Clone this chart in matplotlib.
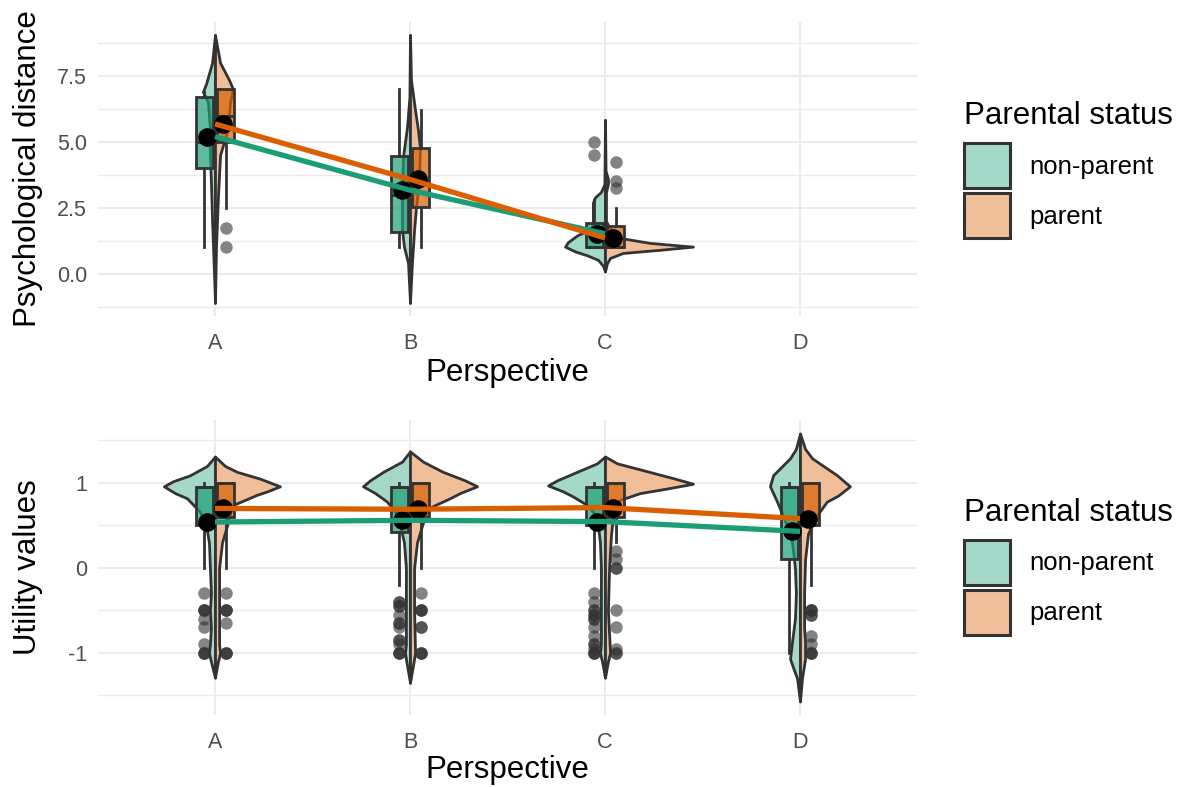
import numpy as np
import matplotlib.pyplot as plt
from matplotlib.patches import Patch
from matplotlib.colors import to_rgba

plt.rcParams['font.family'] = ['Liberation Sans', 'DejaVu Sans']

categories = ['A', 'B', 'C', 'D']
groups = ['non-parent', 'parent']
line_colors = ['#1B9E77', '#D95F02']
violin_colors = ['#A4D8C9', '#F0BF9A']
outline = '#333333'

# ---------------- Psychological distance (A, B, C) ----------------
# split violin half-profiles: (value, half width in axis units)
psy_violin_np = [
    [(9.05, 0), (8.0, .015), (7.2, .046), (6.9, .062), (6.5, .036), (5.5, .026), (4.5, .026),
     (3.5, .021), (2.0, .015), (0.0, .005), (-1.1, 0)],
    [(9.05, 0), (6.7, .003), (5.58, .015), (4.44, .036), (2.93, .041), (1.67, .041), (1.03, .031),
     (0.41, .010), (-1.1, 0)],
    [(5.83, 0), (3.4, .003), (3.1, .021), (2.9, .051), (2.7, .062), (2.05, .062), (1.85, .062),
     (1.67, .082), (1.45, .144), (1.2, .190), (1.03, .205), (0.85, .154), (0.7, .092),
     (0.53, .036), (0.3, .010), (0.09, 0)],
]
psy_violin_p = [
    [(9.05, 0), (8.0, .026), (7.35, .072), (7.0, .092), (6.5, .077), (5.5, .067), (5.0, .046),
     (4.5, .026), (2.9, .015), (1.0, .005), (-1.1, 0)],
    [(9.05, 0), (7.35, .005), (6.2, .026), (5.45, .041), (4.77, .051), (3.5, .046), (2.55, .031),
     (1.67, .021), (0.41, .010), (-1.1, 0)],
    [(5.83, 0), (3.9, .003), (3.6, .015), (3.4, .015), (3.1, .005), (2.0, .005), (1.85, .015),
     (1.6, .041), (1.36, .077), (1.17, .231), (1.03, .451), (0.91, .282), (0.79, .092),
     (0.6, .026), (0.4, .010), (0.09, 0)],
]
# box stats: whisker low, q1, median, q3, whisker high
psy_box_np = [(1.0, 4.0, 5.0, 6.7, 6.9), (1.0, 1.6, 3.0, 4.45, 7.0), (1.0, 1.0, 1.0, 1.93, 2.8)]
psy_box_p = [(2.5, 5.0, 6.0, 7.0, 7.0), (1.0, 2.55, 3.5, 4.77, 6.2), (1.0, 1.0, 1.0, 1.82, 2.5)]
psy_out_np = [[], [], [5.0, 4.5]]
psy_out_p = [[1.75, 1.0], [], [4.25, 3.5, 3.25]]
psy_mean_np = [5.2, 3.17, 1.52]
psy_mean_p = [5.68, 3.58, 1.36]

# ---------------- Utility values (A, B, C, D) ----------------
util_violin_np = [
    [(1.31, 0), (1.2, .041), (1.09, .128), (1.02, .215), (0.96, .262), (0.88, .205), (0.82, .144),
     (0.66, .077), (0.5, .046), (0.3, .031), (0.0, .026), (-0.3, .021), (-0.5, .026), (-0.7, .021),
     (-0.9, .026), (-1.0, .031), (-1.1, .021), (-1.2, .010), (-1.29, 0)],
    [(1.37, 0), (1.25, .041), (1.13, .138), (1.03, .205), (0.96, .241), (0.88, .179), (0.78, .118),
     (0.66, .077), (0.5, .051), (0.3, .031), (0.0, .021), (-0.5, .021), (-0.9, .021), (-1.0, .026),
     (-1.15, .015), (-1.35, 0)],
    [(1.31, 0), (1.23, .041), (1.13, .144), (1.03, .246), (0.97, .292), (0.9, .215), (0.84, .164),
     (0.74, .092), (0.63, .051), (0.5, .036), (0.3, .026), (0.0, .021), (-0.5, .021), (-0.9, .021),
     (-1.0, .026), (-1.1, .015), (-1.29, 0)],
    [(1.58, 0), (1.4, .021), (1.29, .051), (1.09, .138), (0.96, .154), (0.78, .118), (0.5, .067),
     (0.3, .041), (0.0, .026), (-0.3, .021), (-0.6, .026), (-0.87, .041), (-1.07, .051),
     (-1.2, .031), (-1.3, .015), (-1.57, 0)],
]
util_violin_p = [
    [(1.31, 0), (1.2, .051), (1.13, .113), (1.05, .231), (0.96, .333), (0.9, .267), (0.86, .215),
     (0.74, .092), (0.6, .072), (0.5, .062), (0.3, .036), (0.0, .021), (-0.5, .021), (-0.9, .021),
     (-1.0, .026), (-1.1, .015), (-1.29, 0)],
    [(1.37, 0), (1.25, .067), (1.13, .169), (1.03, .282), (0.96, .344), (0.88, .256), (0.82, .205),
     (0.7, .092), (0.5, .062), (0.3, .036), (0.0, .021), (-0.5, .021), (-1.0, .026), (-1.15, .015),
     (-1.35, 0)],
    [(1.31, 0), (1.23, .062), (1.15, .195), (1.05, .359), (0.99, .451), (0.93, .308), (0.88, .179),
     (0.8, .077), (0.6, .041), (0.4, .031), (0.2, .026), (0.0, .021), (-0.5, .015), (-1.0, .026),
     (-1.1, .015), (-1.29, 0)],
    [(1.58, 0), (1.4, .026), (1.29, .062), (1.09, .190), (0.96, .256), (0.85, .195), (0.78, .138),
     (0.59, .077), (0.4, .041), (0.1, .026), (-0.3, .021), (-0.7, .021), (-0.87, .026),
     (-1.07, .026), (-1.3, .010), (-1.57, 0)],
]
util_box_np = [(0.0, 0.5, 0.95, 0.95, 1.0), (-0.2, 0.42, 0.95, 0.95, 1.0),
               (0.0, 0.5, 0.95, 0.95, 1.0), (-1.0, 0.1, 0.95, 0.95, 1.0)]
util_box_p = [(0.0, 0.6, 1.0, 1.0, 1.0), (0.0, 0.6, 1.0, 1.0, 1.0),
              (0.3, 0.6, 1.0, 1.0, 1.0), (-0.2, 0.5, 1.0, 1.0, 1.0)]
util_out_np = [
    [-0.3, -0.5, -0.5, -0.5, -0.6, -0.7, -0.9, -1.0, -1.0, -1.0],
    [-0.4, -0.4, -0.45, -0.45, -0.55, -0.65, -0.65, -0.7, -0.85, -0.85, -0.9, -1.0, -1.0, -1.0],
    [-0.3, -0.4, -0.5, -0.5, -0.55, -0.55, -0.6, -0.6, -0.7, -0.8, -0.9, -0.9, -0.95,
     -1.0, -1.0, -1.0],
    [],
]
util_out_p = [
    [-0.3, -0.5, -0.5, -0.5, -0.65, -1.0, -1.0, -1.0],
    [-0.3, -0.5, -0.5, -0.5, -0.7, -0.7, -1.0, -1.0, -1.0],
    [0.2, 0.1, 0.0, 0.0, -0.5, -0.7, -0.95, -1.0, -1.0],
    [-0.5, -0.5, -0.5, -0.55, -0.55, -0.8, -0.9, -1.0, -1.0, -1.0],
]
util_mean_np = [0.54, 0.56, 0.545, 0.43]
util_mean_p = [0.70, 0.69, 0.71, 0.58]


def draw_panel(ax, violins, boxes, outliers, means, ylabel, ylim, yticks, ylabels, minor):
    for g in range(2):
        sign = -1 if g == 0 else 1
        for i, prof in enumerate(violins[g]):
            ys = [p[0] for p in prof]
            ws = [p[1] for p in prof]
            ax.fill_betweenx(ys, i, i + sign * np.array(ws), facecolor=violin_colors[g],
                             edgecolor=outline, linewidth=2.0, zorder=2)
        stats = []
        for i, (lo, q1, med, q3, hi) in enumerate(boxes[g]):
            stats.append(dict(whislo=lo, q1=q1, med=med, q3=q3, whishi=hi, fliers=outliers[g][i]))
        pos = np.arange(len(stats)) + sign * 0.054
        ax.bxp(stats, positions=pos, widths=0.087, patch_artist=True, showcaps=False,
               boxprops=dict(facecolor=to_rgba(line_colors[g], 0.7), edgecolor=outline,
                             linewidth=2.0),
               whiskerprops=dict(color=outline, linewidth=2.0),
               medianprops=dict(color=outline, linewidth=2.0),
               flierprops=dict(marker='o', markersize=9, markerfacecolor=outline,
                               markeredgecolor='none', alpha=0.6),
               manage_ticks=False, zorder=3)
    for g in range(2):
        sign = -1 if g == 0 else 1
        x = np.arange(len(means[g]))
        ax.scatter(x + sign * 0.041, means[g], s=180, color='black', zorder=4, linewidths=0)
    for g in range(2):
        x = np.arange(len(means[g]))
        ax.plot(x, means[g], color=line_colors[g], linewidth=3.8, zorder=5 + g,
                solid_capstyle='butt')

    ax.set_xlim(-0.6, 3.6)
    ax.set_xticks(range(len(categories)))
    ax.set_xticklabels(categories)
    ax.set_ylim(*ylim)
    ax.set_yticks(yticks)
    ax.set_yticklabels(ylabels)
    ax.set_yticks(minor, minor=True)
    ax.grid(True, which='major', color='#EBEBEB', linewidth=1.5, zorder=0)
    ax.grid(True, which='minor', axis='y', color='#EBEBEB', linewidth=1.0, zorder=0)
    ax.set_axisbelow(True)
    for s in ax.spines.values():
        s.set_visible(False)
    ax.tick_params(which='both', length=0, labelsize=15.5, labelcolor='#4D4D4D')
    ax.tick_params(axis='x', pad=12)
    ax.tick_params(axis='y', pad=8)
    ax.set_xlabel('Perspective', fontsize=22.5)
    ax.set_ylabel(ylabel, fontsize=22.5)
    ax.xaxis.label.set_va('center')
    ax.yaxis.label.set_va('center')

    handles = [Patch(facecolor=violin_colors[g], edgecolor=outline, linewidth=2.2, label=groups[g])
               for g in range(2)]
    leg = ax.legend(handles=handles, title='Parental status', loc='upper left',
                    bbox_to_anchor=(1.057, 0.5), bbox_transform=ax.transAxes, frameon=False,
                    fontsize=18.5, title_fontsize=22.5, handlelength=1.8, handleheight=2.32,
                    handletextpad=0.75, labelspacing=0.2, borderpad=0, borderaxespad=0,
                    alignment='left')
    leg._legend_box.sep = 8.6
    return leg


fig = plt.figure(figsize=(11.84, 7.87), dpi=100)
ax1 = fig.add_axes([98 / 1184, 1 - 316 / 787, 819 / 1184, 294.4 / 787])
ax2 = fig.add_axes([98 / 1184, 1 - 715 / 787, 819 / 1184, 295 / 787])

leg1 = draw_panel(ax1, [psy_violin_np, psy_violin_p], [psy_box_np, psy_box_p],
                  [psy_out_np, psy_out_p], [psy_mean_np, psy_mean_p], 'Psychological distance',
                  (-1.6, 9.56), [0, 2.5, 5, 7.5], ['0.0', '2.5', '5.0', '7.5'],
                  [-1.25, 1.25, 3.75, 6.25, 8.75])
leg1.set_bbox_to_anchor((1.057, 0.73), transform=ax1.transAxes)
ax1.xaxis.set_label_coords(0.5, -0.194)
ax1.yaxis.set_label_coords(-0.0855, 0.5)

leg2 = draw_panel(ax2, [util_violin_np, util_violin_p], [util_box_np, util_box_p],
                  [util_out_np, util_out_p], [util_mean_np, util_mean_p], 'Utility values',
                  (-1.73, 1.74), [-1, 0, 1], ['-1', '0', '1'], [-1.5, -0.5, 0.5, 1.5])
leg2.set_bbox_to_anchor((1.057, 0.737), transform=ax2.transAxes)
ax2.xaxis.set_label_coords(0.5, -0.186)
ax2.yaxis.set_label_coords(-0.0855, 0.5)

fig.savefig('out.png', dpi=100)
